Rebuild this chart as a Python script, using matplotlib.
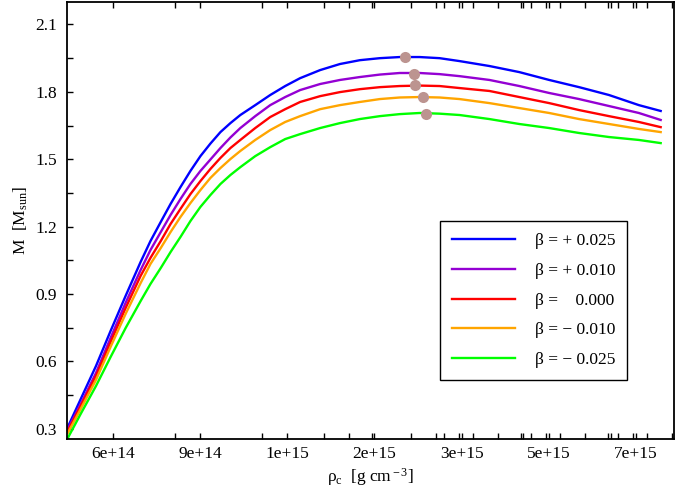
import numpy as np
import matplotlib
matplotlib.use('Agg')
import matplotlib.pyplot as plt
from matplotlib.ticker import FixedLocator, FuncFormatter, NullFormatter

plt.rcParams['font.family'] = ['Liberation Serif', 'DejaVu Serif']
plt.rcParams['mathtext.fontset'] = 'custom'
plt.rcParams['mathtext.rm'] = 'Liberation Serif'
plt.rcParams['mathtext.it'] = 'Liberation Serif:italic'

# central density grid [1e15 g cm^-3]
rho_c = [0.487, 0.517, 0.555, 0.594, 0.637, 0.683, 0.715, 0.750, 0.785, 0.822,
         0.861, 0.902, 0.945, 0.990, 1.037, 1.086, 1.164, 1.248, 1.338, 1.434,
         1.574, 1.726, 1.893, 2.078, 2.279, 2.500, 2.743, 3.010, 3.459, 3.974,
         4.567, 5.248, 6.031, 6.930, 7.67]

# gravitational mass [M_sun] for each coupling beta
mass_p025 = [0.309, 0.433, 0.580, 0.736, 0.892, 1.043, 1.136, 1.221, 1.301, 1.376,
             1.448, 1.514, 1.570, 1.621, 1.661, 1.697, 1.741, 1.786, 1.826, 1.861,
             1.897, 1.924, 1.941, 1.950, 1.955, 1.955, 1.950, 1.937, 1.915, 1.888,
             1.853, 1.821, 1.786, 1.741, 1.715]
mass_p010 = [0.300, 0.411, 0.549, 0.705, 0.861, 1.007, 1.096, 1.176, 1.252, 1.323,
             1.390, 1.448, 1.499, 1.550, 1.597, 1.639, 1.692, 1.741, 1.777, 1.808,
             1.835, 1.853, 1.866, 1.877, 1.884, 1.884, 1.879, 1.870, 1.853, 1.826,
             1.795, 1.768, 1.737, 1.706, 1.675]
mass_000 = [0.291, 0.402, 0.536, 0.687, 0.838, 0.981, 1.061, 1.136, 1.212, 1.279,
            1.345, 1.403, 1.457, 1.506, 1.550, 1.586, 1.639, 1.688, 1.723, 1.755,
            1.781, 1.799, 1.812, 1.821, 1.826, 1.828, 1.826, 1.817, 1.804, 1.777,
            1.750, 1.719, 1.692, 1.666, 1.643]
mass_m010 = [0.282, 0.389, 0.518, 0.665, 0.812, 0.949, 1.034, 1.105, 1.176, 1.243,
             1.305, 1.363, 1.417, 1.461, 1.501, 1.537, 1.586, 1.630, 1.666, 1.692,
             1.723, 1.741, 1.755, 1.768, 1.775, 1.777, 1.775, 1.768, 1.750, 1.728,
             1.706, 1.679, 1.657, 1.635, 1.621]
mass_m025 = [0.260, 0.367, 0.491, 0.620, 0.749, 0.869, 0.945, 1.016, 1.087, 1.154,
             1.225, 1.288, 1.341, 1.390, 1.430, 1.465, 1.514, 1.554, 1.590, 1.612,
             1.639, 1.661, 1.679, 1.692, 1.701, 1.706, 1.703, 1.697, 1.679, 1.657,
             1.639, 1.617, 1.599, 1.586, 1.572]

# maximum-mass configurations
rho_max = [2.34, 2.43, 2.45, 2.54, 2.57]
mass_max = [1.955, 1.879, 1.830, 1.777, 1.701]

labels = ['β = + 0.025', 'β = + 0.010', 'β =    0.000', 'β = − 0.010', 'β = − 0.025']
colors = ['#0000ff', '#9400d3', '#ff0000', '#ffa500', '#00ff00']
series = [mass_p025, mass_p010, mass_000, mass_m010, mass_m025]

fig = plt.figure(figsize=(6.79, 4.98), dpi=100)
ax = fig.add_axes([67 / 679, 1 - 439 / 498, 607 / 679, 437 / 498])

rho = np.array(rho_c) * 1e15
for m, c, lab in zip(series, colors, labels):
    ax.plot(rho, m, color=c, lw=1.7, label=lab)
ax.plot(np.array(rho_max) * 1e15, mass_max, 'o', color='#bc9490', ms=8,
        mec='none', zorder=5)

ax.set_xscale('log')
ax.set_xlim(4.85e14, 8.16e15)
ax.set_ylim(0.255, 2.2)

# majors step by a factor 1.5, minors at integer multiples of each major
majors = 6e14 * 1.5 ** np.arange(-1, 7)
minors = sorted({m * n for m in majors for n in range(2, 11)})
ax.xaxis.set_major_locator(FixedLocator(majors[1:]))
ax.xaxis.set_minor_locator(FixedLocator(minors))
ax.xaxis.set_major_formatter(FuncFormatter(lambda v, p: '%.0e' % v))
ax.xaxis.set_minor_formatter(NullFormatter())

ax.yaxis.set_major_locator(FixedLocator(np.arange(0.3, 2.11, 0.3)))
ax.yaxis.set_minor_locator(FixedLocator(np.arange(0.45, 2.2, 0.3)))
ax.yaxis.set_major_formatter(FuncFormatter(lambda v, p: '%.1f' % v))

ax.tick_params(axis='x', which='both', direction='in', top=True, length=4,
               width=1, labelsize=12.5, pad=5)
ax.tick_params(axis='y', which='both', direction='in', right=False, length=4,
               width=1, labelsize=12.5, pad=7)
for s in ax.spines.values():
    s.set_linewidth(1.3)

ax.set_xlabel(r'ρ$_{\rm c}$  [g cm$^{\rm -3}$]', fontsize=12.5, labelpad=3)
ax.set_ylabel(r'M  [M$_{\rm sun}$]', fontsize=12.5, labelpad=4)

leg = ax.legend(loc='upper left', bbox_to_anchor=(0.6145, 0.499),
                borderaxespad=0, fontsize=12.5, handlelength=3.6,
                handletextpad=1.15, labelspacing=0.78, borderpad=0.7,
                fancybox=False, framealpha=1)
leg.get_frame().set_edgecolor('black')
leg.get_frame().set_linewidth(1.0)

fig.savefig('out.png', dpi=100)
